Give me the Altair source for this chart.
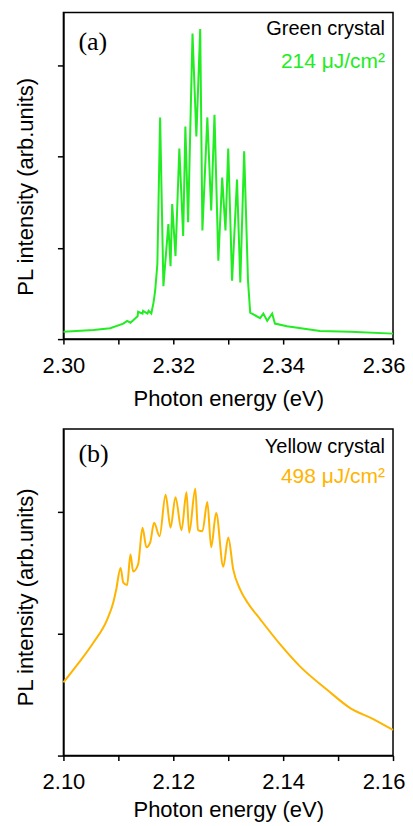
import altair as alt
import pandas as pd

# ---- data ----
green_energy = [2.3000, 2.3055, 2.3085, 2.3109, 2.3116, 2.3122, 2.3135, 2.3136, 2.3144, 2.3145,
                2.3153, 2.3155, 2.3160, 2.3164, 2.3167, 2.3171, 2.3176, 2.3182, 2.3191, 2.3195,
                2.3198, 2.3204, 2.3211, 2.3218, 2.3222, 2.3227, 2.3235, 2.3242, 2.3249, 2.3253,
                2.3262, 2.3269, 2.3275, 2.3282, 2.3289, 2.3295, 2.3300, 2.3307, 2.3316, 2.3322,
                2.3329, 2.3336, 2.3340, 2.3358, 2.3364, 2.3371, 2.3380, 2.3385, 2.3407, 2.3467,
                2.3522, 2.3600]
green_intensity = [0.08, 0.10, 0.12, 0.17, 0.20, 0.18, 0.25, 0.30, 0.28, 0.31,
                   0.28, 0.31, 0.28, 0.40, 0.53, 0.82, 2.43, 0.58, 1.26, 0.80,
                   1.48, 0.91, 2.09, 1.13, 2.33, 1.28, 3.35, 2.22, 3.40, 1.19,
                   2.43, 1.41, 2.46, 0.86, 1.77, 1.19, 2.09, 0.64, 1.75, 0.62,
                   2.06, 0.64, 0.29, 0.23, 0.28, 0.20, 0.28, 0.17, 0.14, 0.09,
                   0.08, 0.06]

yellow_energy = [2.1000, 2.1026, 2.1055, 2.1080, 2.1091, 2.1096, 2.1104, 2.1109, 2.1116, 2.1122,
                 2.1127, 2.1136, 2.1144, 2.1151, 2.1158, 2.1165, 2.1175, 2.1186, 2.1195, 2.1204,
                 2.1215, 2.1224, 2.1229, 2.1240, 2.1245, 2.1253, 2.1262, 2.1269, 2.1278, 2.1291,
                 2.1300, 2.1309, 2.1322, 2.1336, 2.1358, 2.1395, 2.1431, 2.1480, 2.1522, 2.1564,
                 2.1600]
yellow_intensity = [0.60, 0.75, 0.93, 1.12, 1.26, 1.36, 1.54, 1.42, 1.40, 1.65,
                    1.51, 1.57, 1.87, 1.71, 1.75, 1.91, 1.80, 2.14, 1.87, 2.12,
                    1.85, 2.16, 1.83, 2.19, 1.85, 1.84, 2.08, 1.71, 1.99, 1.55,
                    1.79, 1.53, 1.36, 1.25, 1.12, 0.91, 0.73, 0.54, 0.39, 0.30,
                    0.21]

x_ticks_a = [2.30, 2.31, 2.32, 2.33, 2.34, 2.35, 2.36]
x_ticks_b = [2.10, 2.11, 2.12, 2.13, 2.14, 2.15, 2.16]
y_ticks_a = [0, 1, 2, 3]
y_ticks_b = [0, 1, 2]

labels_a = ["(a)", "Green crystal", "214 μJ/cm²"]
labels_b = ["(b)", "Yellow crystal", "498 μJ/cm²"]

GREEN = "#22EC22"
YELLOW = "#FFB400"
SANS = "Liberation Sans"
SERIF = "Liberation Serif"
W = 330


def panel(energy, intensity, color, interp, xdom, xticks, ymax, yticks, labels, ys, h,
          title_pad, title_y):
    df = pd.DataFrame({"E": energy, "I": intensity})
    x = alt.X("E:Q", scale=alt.Scale(domain=xdom, nice=False, zero=False),
              axis=alt.Axis(values=xticks, title="Photon energy (eV)",
                            labelExpr="round(datum.value*100) % 2 == 0 ? format(datum.value, '.2f') : ''",
                            tickSize=5, labelPadding=11, titlePadding=title_pad,
                            labelOffset={"condition": {"test": "datum.index == 1", "value": -9.5}, "value": 0},
                            labelFlush=False, labelOverlap=False))
    y = alt.Y("I:Q", scale=alt.Scale(domain=[0, ymax], nice=False, zero=False),
              axis=alt.Axis(values=yticks, labels=False, tickSize=6,
                            title="PL intensity (arb.units)", titlePadding=19,
                            titleY=title_y))
    line = alt.Chart(df).mark_line(color=color, strokeWidth=2, interpolate=interp).encode(x=x, y=y)
    t_letter = alt.Chart(pd.DataFrame({"t": [labels[0]]})).mark_text(
        font=SERIF, fontSize=26, align="left", baseline="alphabetic", color="black"
    ).encode(text="t:N", x=alt.value(15), y=alt.value(ys[0]))
    t_name = alt.Chart(pd.DataFrame({"t": [labels[1]]})).mark_text(
        font=SANS, fontSize=20, align="right", baseline="alphabetic", color="black"
    ).encode(text="t:N", x=alt.value(W - 8), y=alt.value(ys[1]))
    t_flu = alt.Chart(pd.DataFrame({"t": [labels[2]]})).mark_text(
        font=SANS, fontSize=21, align="right", baseline="alphabetic", color=color
    ).encode(text="t:N", x=alt.value(W - 8), y=alt.value(ys[2]))
    return alt.layer(line, t_letter, t_name, t_flu).properties(width=W, height=h)


a = panel(green_energy, green_intensity, GREEN, "linear", [2.30, 2.36], x_ticks_a, 3.58, y_ticks_a,
          labels_a, [38, 23, 56], 327, 12, 174)
b = panel(yellow_energy, yellow_intensity, YELLOW, "monotone", [2.10, 2.16], x_ticks_b, 2.68, y_ticks_b,
          labels_b, [33, 24, 54], 327, 7.5, 168)

chart = alt.vconcat(a, b, spacing=90, bounds="flush").properties(
    padding={"left": 5.5, "top": 3, "right": -1, "bottom": 0}
).configure_view(
    stroke="black", strokeWidth=1.5
).configure_axis(
    grid=False, domainColor="black", domainWidth=1.5, tickColor="black", tickWidth=1.5,
    labelFont=SANS, labelFontSize=22, labelColor="black",
    titleFont=SANS, titleFontSize=22, titleColor="black", titleFontWeight="normal"
)

chart.save("out.html", embed_options={"renderer": "svg", "actions": False})
